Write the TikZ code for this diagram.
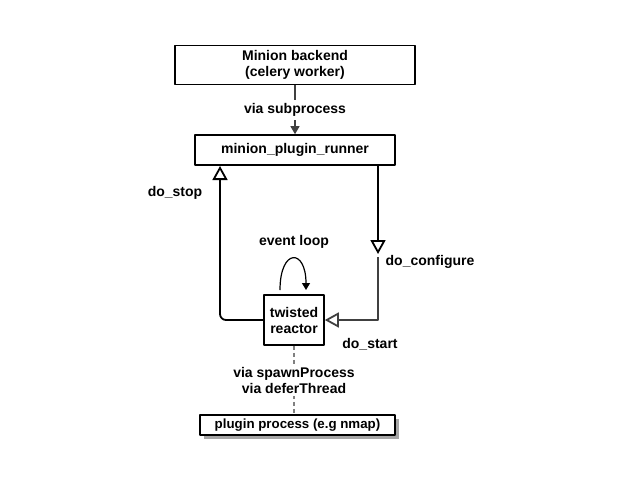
\documentclass[tikz,border=0pt]{standalone}
\usepackage{fontspec}
\setmainfont{Liberation Sans}
\usetikzlibrary{arrows.meta,shadows}
\begin{document}
\begin{tikzpicture}[x=1pt, y=-1pt, line join=round,
		font=\bfseries\fontsize{14}{16}\selectfont,
		box/.style={draw, line width=1.6pt, align=center, inner sep=0pt},
		call/.style={line width=1.8pt, -{Triangle[open, length=14pt, width=15pt]}},
		lbl/.style={fill=white, text=black, align=center}]
	\useasboundingbox (0,0) rectangle (620,480);
	\node[box, minimum width=240, minimum height=39] (backend) at (295,65) {Minion backend\\(celery worker)};
	\node[box, minimum width=200, minimum height=30] (runner) at (295,150) {minion\_plugin\_runner};
	\node[box, minimum width=60, minimum height=50] (reactor) at (294,320) {twisted\\reactor};
	\node[box, minimum width=195, minimum height=20, font=\bfseries\fontsize{13.3}{15}\selectfont,
		fill=white, drop shadow={shadow xshift=4pt, shadow yshift=-4pt, fill=gray!70, opacity=1}] (plugin) at (297.5,425) {plugin process (e.g nmap)};
	\coordinate (stop) at (220,166);
	\coordinate (cfg) at (378,254);
	\coordinate (cfgb) at (378,257);
	\draw[black!75, line width=1.2pt, -{Triangle[length=8pt, width=9pt]}] (backend) -- node[lbl] {via subprocess} (runner);
	\draw[call] (runner.south -| cfg) -- (cfg);
	\draw[call, black!75] (cfgb) |- (reactor.east);
	\draw[call, rounded corners=6pt] (reactor.west) -| (stop);
	\draw[line width=1.2pt, -{Triangle[length=7pt, width=8pt]}] (280,290) .. controls (280,248) and (306,248) .. (306,290);
	\draw[gray, line width=1.6pt, dash pattern=on 4pt off 3pt] (reactor.south) -- node[lbl] {via spawnProcess\\via deferThread} (reactor.south |- plugin.north);
	\node (evt) at (294,242) {event loop};
	\node (dostop) at (175,193) {do\_stop};
	\node (doconf) at (430,262) {do\_configure};
	\node (dostart) at (370,344) {do\_start};
\end{tikzpicture}
\end{document}
